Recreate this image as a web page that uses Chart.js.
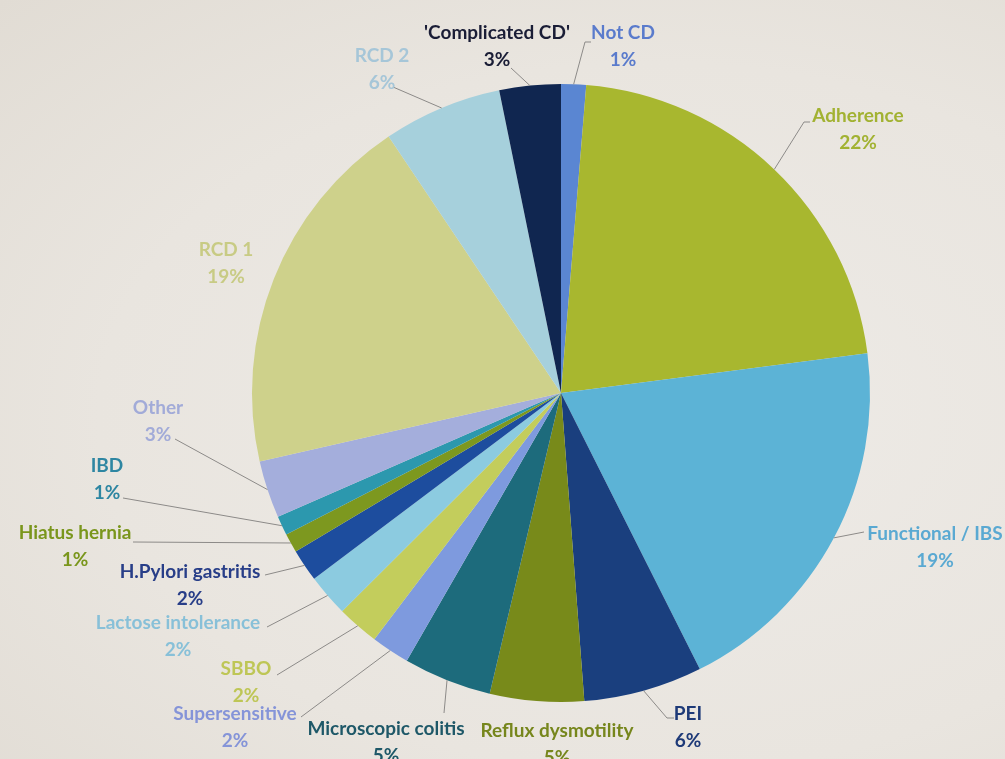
<!DOCTYPE html>
<html>
<head>
<meta charset="utf-8">
<script src="https://cdn.jsdelivr.net/npm/chart.js@4.4.0/dist/chart.umd.min.js"></script>
<style>
  html, body {
    margin: 0;
    padding: 0;
    width: 1005px;
    height: 759px;
    overflow: hidden;
    background: radial-gradient(ellipse at 65% 55%, #eeebe7 0%, #e9e5df 60%, #e1dcd4 100%);
  }
  canvas { display: block; }
</style>
</head>
<body>
<canvas id="chart" width="1005" height="759"></canvas>
<script>
// categories in clockwise order from 12 o'clock
const categories = [
  'Not CD', 'Adherence', 'Functional / IBS', 'PEI', 'Reflux dysmotility',
  'Microscopic colitis', 'Supersensitive', 'SBBO', 'Lactose intolerance',
  'H.Pylori gastritis', 'Hiatus hernia', 'IBD', 'Other', 'RCD 1', 'RCD 2',
  "'Complicated CD'",
];

// slice sizes
const shares = [1.3, 21.6, 19.6, 6.2, 4.9, 4.6, 2.0, 2.2, 2.2, 1.7, 1.0, 1.0, 3.0, 19.1, 6.2, 3.2];

// percentage labels as printed
const pctLabels = ['1%', '22%', '19%', '6%', '5%', '5%', '2%', '2%', '2%', '2%', '1%', '1%', '3%', '19%', '6%', '3%'];

const sliceColors = [
  '#5a86d2', '#a8b72f', '#5cb3d6', '#1a3f7e', '#788a1a', '#1d6b7c',
  '#7e9ade', '#c3cd5c', '#8ccbe0', '#1d4d9e', '#7d981f', '#2c98ae',
  '#a4aedc', '#ced18b', '#a6d0dc', '#102650',
];

const textColors = [
  '#5a7bcc', '#a2b232', '#5aa9d2', '#1e3a78', '#76861c', '#1e5868',
  '#8594d8', '#bec656', '#88c0d8', '#283e88', '#7a961c', '#2e86a2',
  '#a2abd8', '#c8cb84', '#a6c6d8', '#1a1d36',
];

// label layout: text centre (x, y) and leader points from the label toward the slice
const labelLayout = [
  { x: 623, y: 33, leader: [[591, 42], [585, 42]] },
  { x: 858, y: 116, leader: [[810, 122], [804, 122]] },
  { x: 935, y: 534, leader: [[864, 532]] },
  { x: 688, y: 714, leader: [[674, 718], [667, 718]] },
  { x: 557, y: 731, leader: null },
  { x: 386, y: 729, leader: [[444, 713]] },
  { x: 235, y: 714, leader: [[301, 717]] },
  { x: 246, y: 669, leader: [[277, 675]] },
  { x: 178, y: 623, leader: [[267, 627]] },
  { x: 190, y: 572, leader: [[265, 575]] },
  { x: 75, y: 533, leader: [[133, 542]] },
  { x: 107, y: 466, leader: [[123, 498]] },
  { x: 158, y: 408, leader: [[175, 439]] },
  { x: 226, y: 250, leader: null },
  { x: 382, y: 56, leader: [[393, 87]] },
  { x: 497, y: 33, leader: [[511, 68]] },
];

const FONT = 'bold 19px Lato, "Open Sans", sans-serif';

const leaderLabels = {
  id: 'leaderLabels',
  afterDatasetsDraw(chart) {
    const { ctx } = chart;
    const arcs = chart.getDatasetMeta(0).data;
    ctx.save();

    // leader lines
    ctx.strokeStyle = '#8c8a88';
    ctx.lineWidth = 1;
    arcs.forEach((arc, i) => {
      const lay = labelLayout[i];
      if (!lay.leader) return;
      const mid = (arc.startAngle + arc.endAngle) / 2;
      const ex = arc.x + Math.cos(mid) * arc.outerRadius;
      const ey = arc.y + Math.sin(mid) * arc.outerRadius;
      ctx.beginPath();
      ctx.moveTo(lay.leader[0][0], lay.leader[0][1]);
      for (let k = 1; k < lay.leader.length; k++) {
        ctx.lineTo(lay.leader[k][0], lay.leader[k][1]);
      }
      ctx.lineTo(ex, ey);
      ctx.stroke();
    });

    // label texts
    ctx.font = FONT;
    ctx.textAlign = 'center';
    ctx.textBaseline = 'middle';
    categories.forEach((name, i) => {
      const lay = labelLayout[i];
      ctx.fillStyle = textColors[i];
      ctx.fillText(name, lay.x, lay.y);
      ctx.fillText(pctLabels[i], lay.x, lay.y + 27);
    });

    ctx.restore();
  },
};

new Chart(document.getElementById('chart'), {
  type: 'pie',
  data: {
    labels: categories,
    datasets: [{
      data: shares,
      backgroundColor: sliceColors,
      borderWidth: 0,
    }],
  },
  options: {
    responsive: false,
    animation: false,
    layout: {
      padding: { left: 252, right: 135, top: 82, bottom: 55 },
    },
    plugins: {
      legend: { display: false },
      tooltip: { enabled: false },
    },
  },
  plugins: [leaderLabels],
});
</script>
</body>
</html>
